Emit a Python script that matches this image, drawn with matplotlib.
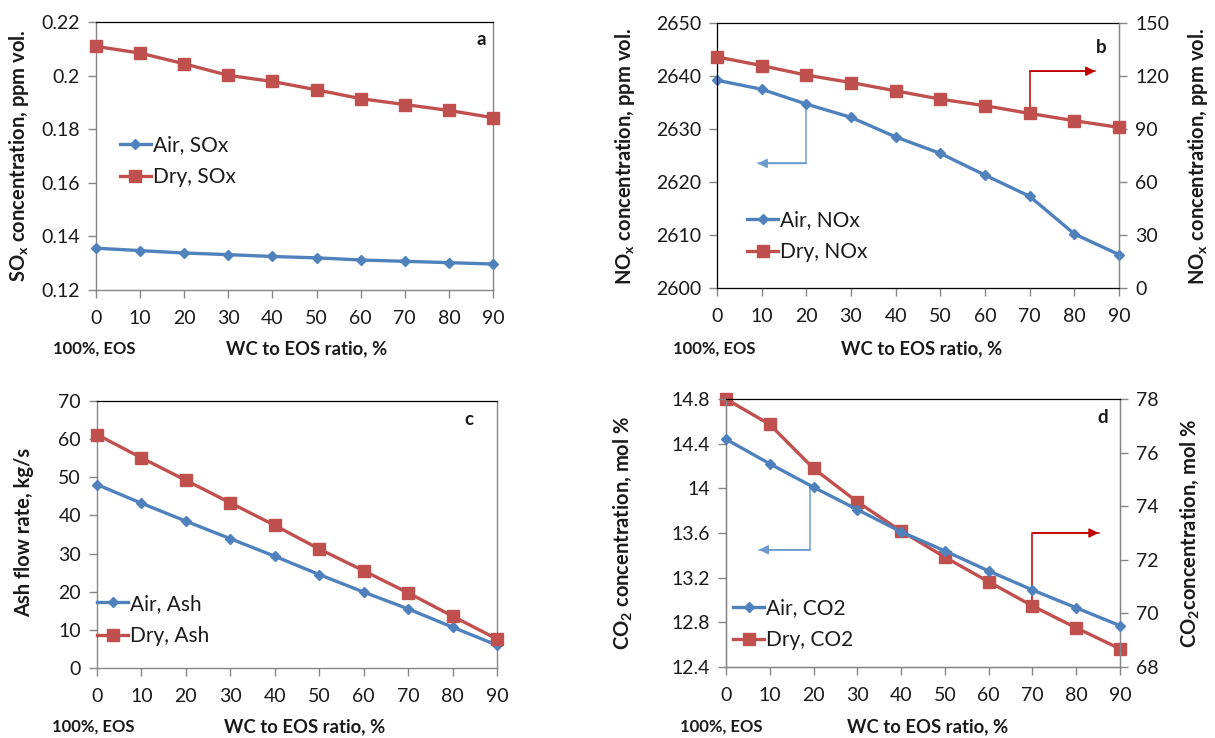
import matplotlib
matplotlib.use("Agg")
import matplotlib.pyplot as plt

plt.rcParams['font.family'] = ['Lato', 'DejaVu Sans']
plt.rcParams['mathtext.fontset'] = 'custom'
plt.rcParams['mathtext.rm'] = 'Lato'
plt.rcParams['mathtext.bf'] = 'Lato:bold'
plt.rcParams['mathtext.it'] = 'Lato:italic'

# ---------------- data ----------------
wc_ratio = [0, 10, 20, 30, 40, 50, 60, 70, 80, 90]

sox_air = [0.1356, 0.1347, 0.1338, 0.1332, 0.1325, 0.1320, 0.1312, 0.1307, 0.1302, 0.1297]
sox_dry = [0.2109, 0.2084, 0.2044, 0.2001, 0.1978, 0.1947, 0.1914, 0.1892, 0.1870, 0.1843]

nox_air = [2639.2, 2637.5, 2634.7, 2632.2, 2628.5, 2625.4, 2621.3, 2617.3, 2610.2, 2606.3]
nox_dry = [130.8, 125.9, 120.5, 116.3, 111.6, 106.9, 103.2, 98.8, 94.7, 90.9]

ash_air = [48.1, 43.2, 38.5, 33.9, 29.3, 24.5, 19.9, 15.5, 10.7, 6.0]
ash_dry = [61.2, 55.1, 49.2, 43.3, 37.4, 31.2, 25.5, 19.7, 13.6, 7.6]

co2_air = [14.44, 14.22, 14.01, 13.81, 13.61, 13.44, 13.26, 13.09, 12.93, 12.77]
co2_dry = [78.0, 77.05, 75.41, 74.16, 73.07, 72.1, 71.18, 70.28, 69.46, 68.68]

# axis-pointer annotations (x path, y path)
b_left_arrow_x = [20, 20, 9.1]
b_left_arrow_y = [2634.7, 2623.5, 2623.5]
b_right_arrow_x = [70, 70, 84.7]
b_right_arrow_y = [98.8, 122.7, 122.7]
d_left_arrow_x = [19.3, 19.3, 7.5]
d_left_arrow_y = [14.02, 13.45, 13.45]
d_right_arrow_x = [70, 70, 85.1]
d_right_arrow_y = [70.28, 73.0, 73.0]

BLUE = '#4F81BD'
RED = '#C0504D'
GRAY = '#868686'
TXT = '#1a1a1a'
TICK_FS = 14
LAB_FS = 14.5

fig = plt.figure(figsize=(12.15, 7.38), dpi=100)


def style_axes(ax):
    for s in ['left', 'bottom']:
        ax.spines[s].set_color(GRAY)
        ax.spines[s].set_linewidth(1.0)
    ax.spines['top'].set_color('black')
    ax.spines['top'].set_linewidth(0.9)
    ax.spines['right'].set_color(GRAY)
    ax.spines['right'].set_linewidth(1.0)
    ax.tick_params(axis='both', direction='out', length=5.5, width=1.0,
                   color=GRAY, labelsize=TICK_FS, labelcolor=TXT, pad=6)
    ax.tick_params(axis='x', pad=9)
    ax.set_xlim(0, 90)
    ax.set_xticks(wc_ratio)


def style_right(ax2):
    ax2.spines['right'].set_color(GRAY)
    ax2.spines['top'].set_visible(False)
    ax2.tick_params(axis='y', direction='out', length=5.5, width=1.0, color=GRAY,
                    labelsize=TICK_FS, labelcolor=TXT, pad=6)


def plot_air(ax, y, label):
    return ax.plot(wc_ratio, y, color=BLUE, lw=2.4, marker='D', ms=5.5,
                   mfc=BLUE, mec=BLUE, label=label, clip_on=False, zorder=4)[0]


def plot_dry(ax, y, label):
    return ax.plot(wc_ratio, y, color=RED, lw=2.4, marker='s', ms=9,
                   mfc=RED, mec=RED, label=label, clip_on=False, zorder=4)[0]


def legend(ax, handles, x, y):
    ax.legend(handles=handles, loc='center left', bbox_to_anchor=(x, y),
              frameon=False, fontsize=15, borderpad=0, borderaxespad=0,
              handlelength=1.5, handletextpad=0.1, labelspacing=0.6,
              labelcolor=TXT)


def xlabels(x_note, x_main, y):
    fig.text(x_note, y, '100%, EOS', fontsize=12, fontweight='bold',
             ha='center', va='center', color=TXT)
    fig.text(x_main, y, 'WC to EOS ratio, %', fontsize=13.3, fontweight='bold',
             ha='center', va='center', color=TXT)


def ylabel(x, y, s):
    fig.text(x / W, 1 - y / H, s, rotation=90, fontsize=LAB_FS, fontweight='bold',
             ha='center', va='center', color=TXT)


def arrow(ax, xs, ys, color):
    ax.plot(xs, ys, color=color, lw=1.1, zorder=3)
    ax.annotate('', xy=(xs[-1], ys[-1]), xytext=(xs[-2], ys[-2]),
                arrowprops=dict(arrowstyle='-|>', color=color, lw=1.1,
                                mutation_scale=14, shrinkA=0, shrinkB=0),
                zorder=3)


def panel_letter(ax, x, y, s):
    ax.text(x, y, s, transform=ax.transAxes, fontsize=13.5, fontweight='bold',
            ha='center', va='center', color=TXT, zorder=6)


W, H = 1215.0, 738.0


def ax_at(x0, x1, y0, y1):
    return fig.add_axes([x0 / W, 1 - y1 / H, (x1 - x0) / W, (y1 - y0) / H])


# ---------------- panel a ----------------
ax = ax_at(96, 493, 22, 290)
style_axes(ax)
ha = plot_air(ax, sox_air, 'Air, SOx')
hd = plot_dry(ax, sox_dry, 'Dry, SOx')
ax.set_ylim(0.12, 0.22)
ax.set_yticks([0.12, 0.14, 0.16, 0.18, 0.2, 0.22])
ax.set_yticklabels(['0.12', '0.14', '0.16', '0.18', '0.2', '0.22'])
legend(ax, [ha, hd], 0.06, 0.481)
panel_letter(ax, 0.97, 0.933, 'a')
ylabel(19, 156, r'$\mathbf{SO_x}$ concentration, ppm vol.')
xlabels(94 / W, 307 / W, 1 - 349 / H)

# ---------------- panel b ----------------
ax = ax_at(717, 1119, 23, 288)
style_axes(ax)
ax.set_ylim(2600, 2650)
ax.set_yticks(range(2600, 2651, 10))
ax2 = ax.twinx()
ax2.set_ylim(0, 150)
ax2.set_yticks(range(0, 151, 30))
style_right(ax2)
ha = plot_air(ax, nox_air, 'Air, NOx')
hd = plot_dry(ax2, nox_dry, 'Dry, NOx')
arrow(ax, b_left_arrow_x, b_left_arrow_y, '#6F9BD1')
arrow(ax2, b_right_arrow_x, b_right_arrow_y, '#C00000')
legend(ax2, [ha, hd], 0.075, 0.196)
panel_letter(ax2, 0.955, 0.909, 'b')
ylabel(625, 156, r'$\mathbf{NO_x}$ concentration, ppm vol.')
ylabel(1198, 156, r'$\mathbf{NO_x}$ concentration, ppm vol.')
xlabels(714 / W, 922 / W, 1 - 349 / H)

# ---------------- panel c ----------------
ax = ax_at(97, 497, 401, 668)
style_axes(ax)
ha = plot_air(ax, ash_air, 'Air, Ash')
hd = plot_dry(ax, ash_dry, 'Dry, Ash')
ax.set_ylim(0, 70)
ax.set_yticks(range(0, 71, 10))
legend(ax, [ha, hd], 0.0, 0.18)
panel_letter(ax, 0.93, 0.93, 'c')
ylabel(24, 532, 'Ash flow rate, kg/s')
xlabels(93 / W, 305 / W, 1 - 727 / H)

# ---------------- panel d ----------------
ax = ax_at(726, 1120, 399, 667)
style_axes(ax)
ax.set_ylim(12.4, 14.8)
ax.set_yticks([12.4, 12.8, 13.2, 13.6, 14.0, 14.4, 14.8])
ax.set_yticklabels(['12.4', '12.8', '13.2', '13.6', '14', '14.4', '14.8'])
ax2 = ax.twinx()
ax2.set_ylim(68, 78)
ax2.set_yticks(range(68, 79, 2))
style_right(ax2)
hd = plot_dry(ax2, co2_dry, 'Dry, CO2')
ha = plot_air(ax, co2_air, 'Air, CO2')
ax.set_zorder(ax2.get_zorder() + 1)
ax.patch.set_visible(False)
arrow(ax, d_left_arrow_x, d_left_arrow_y, '#6F9BD1')
arrow(ax2, d_right_arrow_x, d_right_arrow_y, '#C00000')
legend(ax, [ha, hd], 0.018, 0.16)
panel_letter(ax, 0.957, 0.93, 'd')
ylabel(623, 533, r'$\mathbf{CO_2}$ concentration, mol %')
ylabel(1190, 533, r'$\mathbf{CO_2}$concentration, mol %')
xlabels(721 / W, 928 / W, 1 - 727 / H)

fig.savefig('out.png', dpi=100, facecolor='white')
